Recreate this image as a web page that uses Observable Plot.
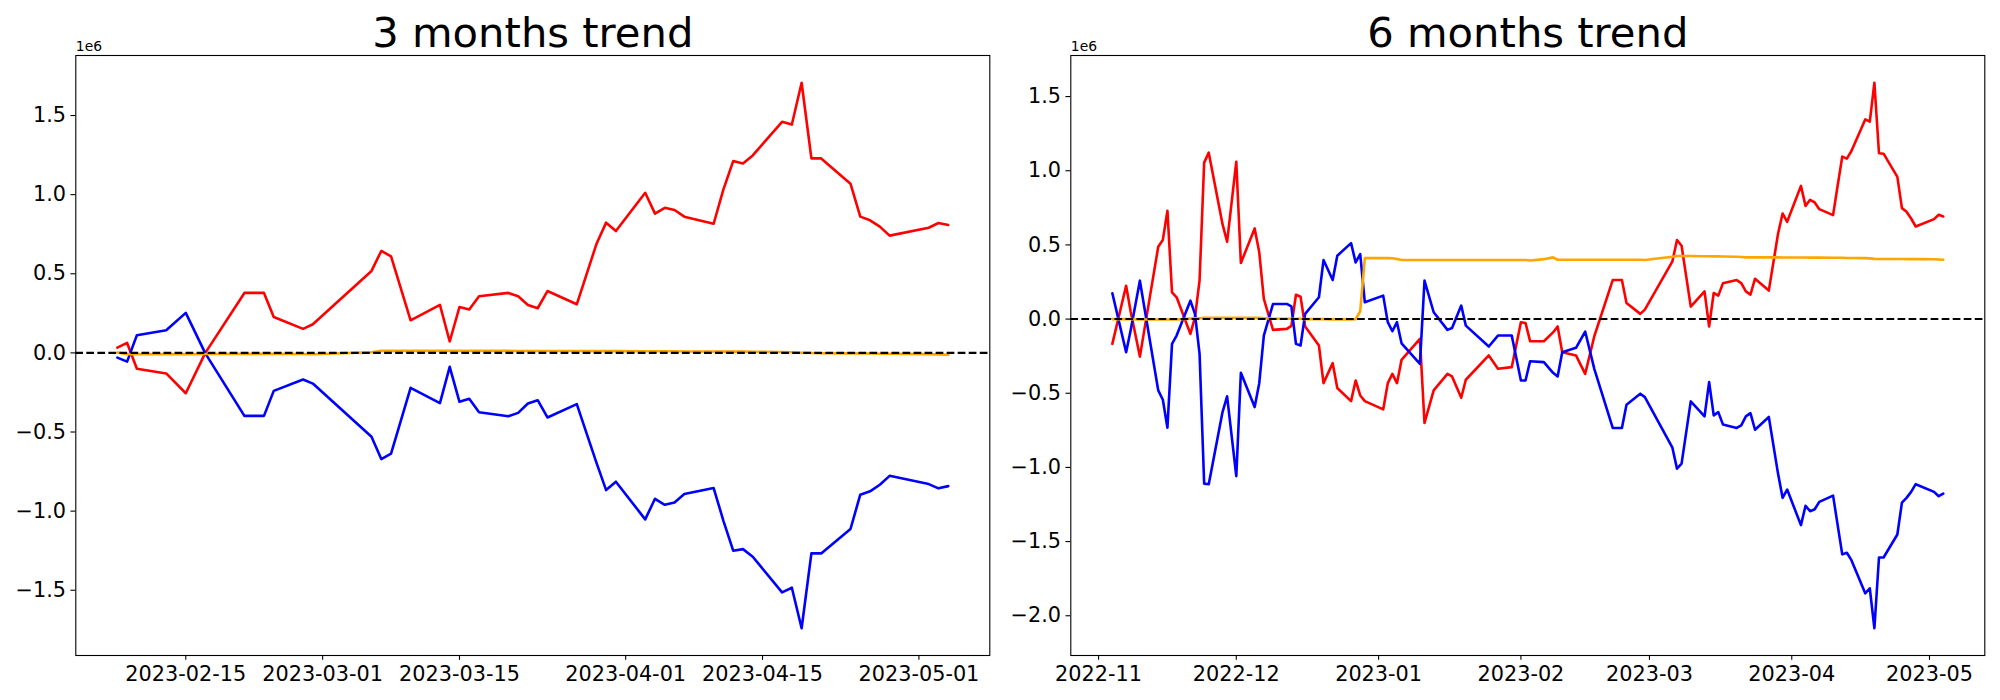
<!DOCTYPE html>
<html><head><meta charset="utf-8">
<script src="https://cdn.jsdelivr.net/npm/d3@7"></script>
<script src="https://cdn.jsdelivr.net/npm/@observablehq/plot@0.6"></script>
<style>
html,body{margin:0;padding:0;background:#fff;}
#wrap{display:flex;width:2000px;height:700px;}
#wrap svg{display:block;}
</style></head><body><div id="wrap"></div>
<script>
// All values are in units of 1e6
const dates3 = ["2023-02-08","2023-02-09","2023-02-10","2023-02-13","2023-02-15","2023-02-17","2023-02-21","2023-02-23","2023-02-24","2023-02-27","2023-02-28",
"2023-03-06","2023-03-07","2023-03-08","2023-03-10","2023-03-13","2023-03-14","2023-03-15","2023-03-16","2023-03-17","2023-03-20","2023-03-21","2023-03-22","2023-03-23","2023-03-24","2023-03-27","2023-03-29","2023-03-30","2023-03-31",
"2023-04-03","2023-04-04","2023-04-05","2023-04-06","2023-04-07","2023-04-10","2023-04-11","2023-04-12","2023-04-13","2023-04-14","2023-04-17","2023-04-18","2023-04-19","2023-04-20","2023-04-21","2023-04-24","2023-04-25","2023-04-26","2023-04-27","2023-04-28",
"2023-05-02","2023-05-03","2023-05-04"];
const red3 = [0.033,0.063,-0.10,-0.13,-0.255,0.0,0.379,0.379,0.227,0.152,0.181,
0.518,0.644,0.61,0.206,0.303,0.072,0.29,0.274,0.358,0.379,0.358,0.303,0.282,0.391,0.307,0.686,0.823,0.770,
1.012,0.880,0.917,0.903,0.861,0.816,1.033,1.212,1.197,1.248,1.460,1.443,1.707,1.229,1.229,1.069,0.861,0.838,0.798,0.741,
0.791,0.821,0.808];
const blue3 = [-0.03,-0.055,0.112,0.143,0.253,-0.003,-0.398,-0.398,-0.240,-0.168,-0.194,
-0.530,-0.671,-0.636,-0.221,-0.318,-0.088,-0.309,-0.290,-0.375,-0.400,-0.379,-0.320,-0.299,-0.408,-0.324,-0.692,-0.867,-0.814,
-1.052,-0.922,-0.960,-0.945,-0.892,-0.854,-1.061,-1.250,-1.240,-1.288,-1.513,-1.484,-1.740,-1.267,-1.267,-1.113,-0.896,-0.875,-0.833,-0.777,
-0.829,-0.856,-0.842];
const orange3 = [0.002,-0.008,-0.008,-0.008,-0.008,-0.007,-0.006,-0.006,-0.006,-0.007,-0.009,
0.004,0.013,0.013,0.013,0.013,0.013,0.013,0.013,0.013,0.013,0.012,0.012,0.012,0.012,0.012,0.011,0.011,0.011,
0.010,0.010,0.010,0.010,0.009,0.009,0.008,0.008,0.008,0.007,0.006,0.004,0.001,-0.001,-0.002,-0.003,-0.004,-0.004,-0.005,-0.005,
-0.008,-0.010,-0.012];

const dates6 = ["2022-11-04","2022-11-07","2022-11-08","2022-11-10","2022-11-14","2022-11-15","2022-11-16","2022-11-17","2022-11-18","2022-11-21","2022-11-22","2022-11-23","2022-11-24","2022-11-25","2022-11-28","2022-11-29",
"2022-12-01","2022-12-02","2022-12-05","2022-12-06","2022-12-07","2022-12-09","2022-12-12","2022-12-13","2022-12-14","2022-12-15","2022-12-16","2022-12-19","2022-12-20","2022-12-22","2022-12-23","2022-12-26","2022-12-27","2022-12-28","2022-12-29",
"2023-01-02","2023-01-03","2023-01-04","2023-01-05","2023-01-06","2023-01-10","2023-01-11","2023-01-13","2023-01-16","2023-01-17","2023-01-19","2023-01-20","2023-01-25","2023-01-27","2023-01-30",
"2023-02-01","2023-02-02","2023-02-03","2023-02-06","2023-02-08","2023-02-09","2023-02-10","2023-02-13","2023-02-15","2023-02-17","2023-02-21","2023-02-23","2023-02-24","2023-02-27","2023-02-28",
"2023-03-06","2023-03-07","2023-03-08","2023-03-10","2023-03-13","2023-03-14","2023-03-15","2023-03-16","2023-03-17","2023-03-20","2023-03-21","2023-03-22","2023-03-23","2023-03-24","2023-03-27","2023-03-29","2023-03-30","2023-03-31",
"2023-04-03","2023-04-04","2023-04-05","2023-04-06","2023-04-07","2023-04-10","2023-04-11","2023-04-12","2023-04-13","2023-04-14","2023-04-17","2023-04-18","2023-04-19","2023-04-20","2023-04-21","2023-04-24","2023-04-25","2023-04-26","2023-04-27","2023-04-28",
"2023-05-02","2023-05-03","2023-05-04"];
const red6 = [-0.167,0.225,0.05,-0.253,0.488,0.534,0.730,0.180,0.147,-0.100,0.012,0.26,1.055,1.122,0.64,0.521,
1.061,0.378,0.611,0.45,0.136,-0.073,-0.066,-0.046,0.164,0.151,-0.05,-0.178,-0.432,-0.297,-0.465,-0.553,-0.414,-0.515,-0.553,
-0.609,-0.432,-0.369,-0.432,-0.275,-0.133,-0.70,-0.481,-0.369,-0.387,-0.53,-0.409,-0.245,-0.335,-0.324,
-0.021,-0.026,-0.149,-0.149,-0.09,-0.05,-0.223,-0.245,-0.369,-0.114,0.263,0.263,0.109,0.035,0.064,
0.389,0.533,0.494,0.084,0.187,-0.05,0.176,0.158,0.241,0.263,0.243,0.187,0.165,0.272,0.192,0.573,0.712,0.656,
0.898,0.763,0.804,0.786,0.741,0.701,0.90,1.095,1.082,1.133,1.346,1.331,1.593,1.118,1.115,0.959,0.748,0.723,0.678,0.624,
0.674,0.703,0.692];
const blue6 = [0.174,-0.223,-0.073,0.259,-0.481,-0.544,-0.732,-0.167,-0.111,0.124,0.035,-0.234,-1.109,-1.113,-0.627,-0.521,
-1.059,-0.362,-0.593,-0.432,-0.111,0.102,0.102,0.085,-0.167,-0.178,0.035,0.147,0.398,0.263,0.427,0.512,0.382,0.438,0.113,
0.158,-0.021,-0.082,-0.021,-0.163,-0.302,0.259,0.046,-0.073,-0.06,0.091,-0.044,-0.185,-0.111,-0.111,
-0.414,-0.414,-0.284,-0.290,-0.362,-0.387,-0.223,-0.194,-0.084,-0.337,-0.734,-0.734,-0.577,-0.503,-0.526,
-0.867,-1.008,-0.974,-0.555,-0.656,-0.425,-0.649,-0.627,-0.710,-0.734,-0.716,-0.656,-0.634,-0.746,-0.660,-1.04,-1.205,-1.149,
-1.389,-1.259,-1.295,-1.282,-1.232,-1.19,-1.389,-1.586,-1.575,-1.625,-1.849,-1.815,-2.084,-1.607,-1.607,-1.452,-1.237,-1.205,-1.165,-1.113,
-1.165,-1.194,-1.176];
const orange6 = [0,0,0,-0.002,-0.003,-0.003,-0.003,-0.003,-0.003,0.003,0.005,0.006,0.008,0.008,0.008,0.008,
0.008,0.008,0.008,0.008,0.006,0.003,0.002,0.002,0.002,0.002,0.0,0.0,0.0,-0.002,-0.002,-0.002,0.0,0.053,0.411,
0.411,0.411,0.410,0.405,0.398,0.398,0.398,0.398,0.398,0.398,0.398,0.398,0.398,0.398,0.398,
0.398,0.398,0.395,0.404,0.416,0.400,0.400,0.400,0.400,0.400,0.400,0.400,0.400,0.400,0.398,
0.420,0.425,0.425,0.425,0.424,0.424,0.423,0.423,0.422,0.420,0.418,0.416,0.416,0.416,0.416,0.416,0.415,0.415,
0.415,0.415,0.414,0.414,0.414,0.413,0.413,0.413,0.412,0.412,0.411,0.409,0.406,0.405,0.405,0.405,0.405,0.404,0.404,0.404,
0.403,0.402,0.400];

const xTicks3 = ["2023-02-15","2023-03-01","2023-03-15","2023-04-01","2023-04-15","2023-05-01"];
const xTicks6 = ["2022-11-01","2022-12-01","2023-01-01","2023-02-01","2023-03-01","2023-04-01","2023-05-01"];
const yTicks3 = [-1.5,-1.0,-0.5,0.0,0.5,1.0,1.5];
const yTicks6 = [-2.0,-1.5,-1.0,-0.5,0.0,0.5,1.0,1.5];
const titles = ["3 months trend","6 months trend"];
const offsetLabel = "1e6";

const fmtY = d => d.toFixed(1).replace("-", "\u2212");

function chart(cfg) {
  const rows = cfg.dates.map((d, i) => ({date: new Date(d), red: cfg.red[i], blue: cfg.blue[i], orange: cfg.orange[i]}));
  const [t0, t1] = d3.extent(rows, d => d.date);
  const tp = (t1 - t0) * 0.05;
  const [v0, v1] = d3.extent(cfg.red.concat(cfg.blue, cfg.orange));
  const vp = (v1 - v0) * 0.05;
  return Plot.plot({
    width: 1000, height: 700,
    marginLeft: cfg.ml, marginRight: cfg.mr, marginTop: 55, marginBottom: 45,
    style: {fontFamily: "'DejaVu Sans', sans-serif", fontSize: "20.8px", background: "white", color: "black", overflow: "visible"},
    x: {type: "utc", domain: [new Date(+t0 - tp), new Date(+t1 + tp)]},
    y: {domain: [v0 - vp, v1 + vp]},
    marks: [
      Plot.line(rows, {x: "date", y: "red", stroke: "red", strokeWidth: 2.6}),
      Plot.line(rows, {x: "date", y: "blue", stroke: "blue", strokeWidth: 2.6}),
      Plot.line(rows, {x: "date", y: "orange", stroke: "orange", strokeWidth: 2.6}),
      Plot.ruleY([0], {stroke: "black", strokeWidth: 2.08, strokeDasharray: "7.7 3.33"}),
      Plot.frame({stroke: "black", strokeWidth: 1.1}),
      Plot.axisX({ticks: cfg.xTicks.map(d => new Date(d)), tickFormat: d3.utcFormat(cfg.xFmt), tickSize: 4.86, tickPadding: 6.2, strokeWidth: 1.1, fontSize: 20.8, label: null}),
      Plot.axisY({ticks: cfg.yTicks, tickFormat: fmtY, tickSize: 4.86, tickPadding: 4.86, strokeWidth: 1.1, fontSize: 20.8, label: null}),
      Plot.text([cfg.title], {text: d => d, frameAnchor: "top", dy: -8.3, lineAnchor: "bottom", fontSize: 41.7, fill: "black"}),
      Plot.text([offsetLabel], {text: d => d, frameAnchor: "top-left", dy: -4.3, textAnchor: "start", lineAnchor: "bottom", fontSize: 13.9, fill: "black"})
    ]
  });
}

const wrap = document.getElementById("wrap");
wrap.append(chart({dates: dates3, red: red3, blue: blue3, orange: orange3, xTicks: xTicks3, xFmt: "%Y-%m-%d", yTicks: yTicks3, title: titles[0], ml: 75.3, mr: 10.7}));
wrap.append(chart({dates: dates6, red: red6, blue: blue6, orange: orange6, xTicks: xTicks6, xFmt: "%Y-%m", yTicks: yTicks6, title: titles[1], ml: 70.3, mr: 15.7}));
</script></body></html>
